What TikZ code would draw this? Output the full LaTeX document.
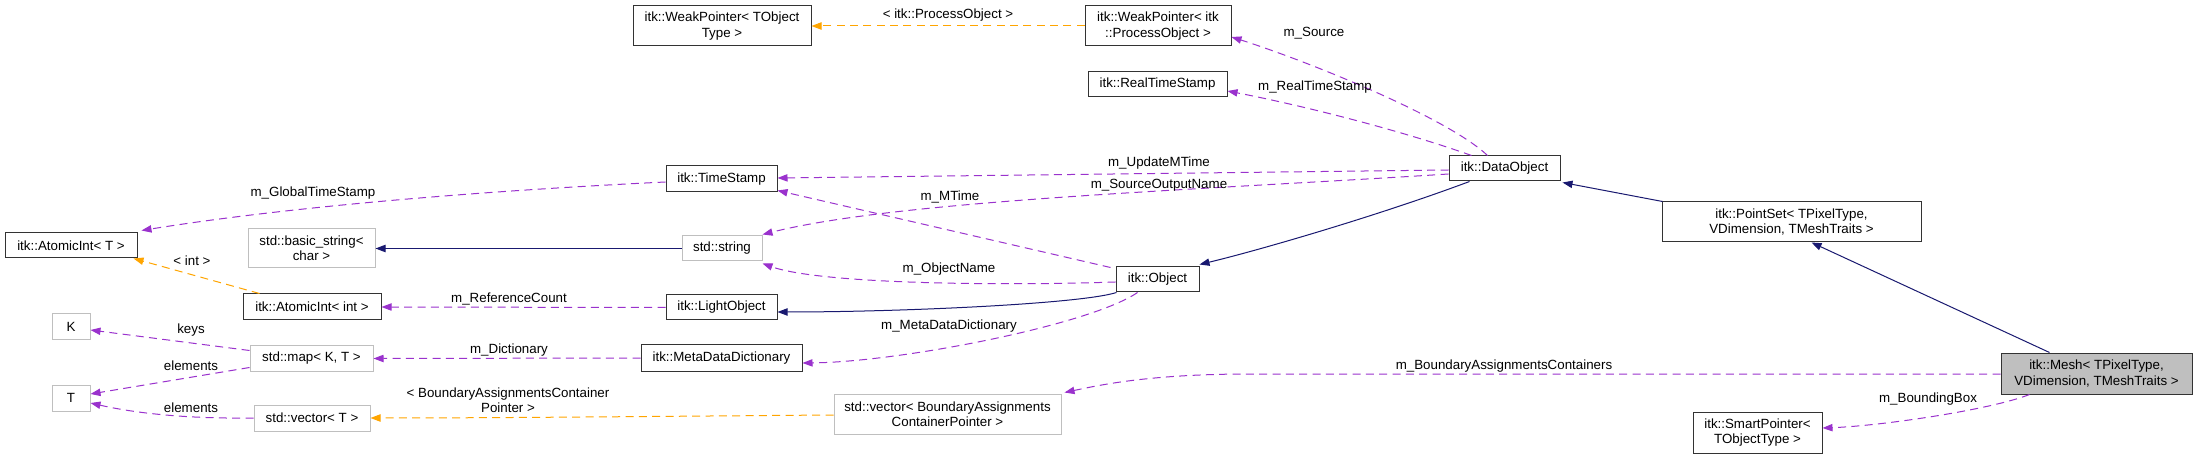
\documentclass[tikz,border=0pt]{standalone}
\usepackage{fontspec}
\setmainfont{Liberation Sans}
\usetikzlibrary{arrows.meta,calc}
\definecolor{epurple}{HTML}{9A32CD}
\definecolor{eorange}{HTML}{FFA500}
\definecolor{enavy}{HTML}{191970}
\definecolor{ugrey}{HTML}{BFBFBF}
\begin{document}
\begin{tikzpicture}[x=0.75pt,y=-0.75pt,
  font=\fontsize{10}{11.5}\selectfont,
  base/.style={rectangle, inner sep=0pt, align=center, line width=0.75pt},
  cls/.style={base, draw=black!80},
  ucls/.style={base, draw=ugrey},
  mcls/.style={base, draw=black!80, fill=ugrey},
  sz/.style 2 args={minimum width=#1*0.75pt, minimum height=#2*0.75pt},
  tip/.style={-{Triangle[length=7.5pt,width=5.5pt]}},
  uses/.style={tip, draw=epurple, fill=none, dash pattern=on 6pt off 4pt, line width=0.75pt},
  tmpl/.style={tip, draw=eorange, dash pattern=on 6pt off 4pt, line width=0.75pt},
  inh/.style={tip, draw=enavy, line width=0.75pt},
  lbl/.style={inner sep=0pt, align=center}
]
\fill[white] (0,0) rectangle (2197,459);
\useasboundingbox (0,0) rectangle (2197,459);

% nodes
\node[cls, sz={178}{40}] (wpT) at (722,26) {itk::WeakPointer< TObject\\Type >};
\node[cls, sz={146}{40}] (wpPO) at (1158,26) {itk::WeakPointer< itk\\::ProcessObject >};
\node[cls, sz={139}{25}] (rts) at (1157.5,84.5) {itk::RealTimeStamp};
\node[cls, sz={111}{26}] (ts) at (721.5,179) {itk::TimeStamp};
\node[cls, sz={111}{25}] (dobj) at (1504.5,168.5) {itk::DataObject};
\node[cls, sz={259}{40}] (pset) at (1791.5,222) {itk::PointSet< TPixelType,\\ VDimension, TMeshTraits >};
\node[cls, sz={132}{25}] (aiT) at (71,245.5) {itk::AtomicInt< T >};
\node[ucls, sz={127}{39}] (bstr) at (311.5,248.5) {std::basic\_string<\\char >};
\node[ucls, sz={80}{25}] (str) at (722,248.5) {std::string};
\node[cls, sz={83}{25}] (obj) at (1157.5,279.5) {itk::Object};
\node[cls, sz={138}{26}] (aiInt) at (312,307) {itk::AtomicInt< int >};
\node[cls, sz={111}{25}] (light) at (721.5,307.5) {itk::LightObject};
\node[ucls, sz={38}{26}] (K) at (71,327) {K};
\node[ucls, sz={123}{25}] (map) at (311.5,358.5) {std::map< K, T >};
\node[cls, sz={161}{26}] (mdd) at (721.5,358) {itk::MetaDataDictionary};
\node[mcls, sz={191}{41}] (mesh) at (2096.5,373.5) {itk::Mesh< TPixelType,\\ VDimension, TMeshTraits >};
\node[ucls, sz={38}{26}] (T) at (71,398) {T};
\node[ucls, sz={227}{40}] (vecBAC) at (947.5,414) {std::vector< BoundaryAssignments\\ContainerPointer >};
\node[ucls, sz={116}{26}] (vecT) at (312,418) {std::vector< T >};
\node[cls, sz={129}{41}] (sp) at (1757.5,432.5) {itk::SmartPointer<\\TObjectType >};

% inheritance (solid navy)
\draw[inh] ($(pset.north west)+(1,0)$) -- ($(dobj.south east)+(2,1)$);
\draw[inh] ($(mesh.north west)+(49,0)$) -- ($(pset.south west)+(150,0)$);
\draw[inh] ($(dobj.south west)+(21,0)$) .. controls (1380,215) and (1260,250) .. ($(obj.north east)+(0,-2)$);
\draw[inh] ($(obj.south west)+(1,0)$) .. controls (1080,304) and (900,312) .. ($(light.east)+(0,4.5)$);
\draw[inh] (str.west) -- (bstr.east);

% template instances (orange dashed)
\draw[tmpl] (wpPO.west) -- node[lbl, above=3pt, pos=0.5] {< itk::ProcessObject >} (wpT.east);
\draw[tmpl] ($(aiInt.north west)+(17,0)$) -- ($(aiT.south east)+(-4,0)$);
\node[lbl] (lint) at (192,261) {< int >};
\draw[tmpl] ($(vecBAC.west)+(0,1)$) .. controls (700,416) and (500,418) .. (vecT.east);
\node[lbl] (lbac) at (508,400) {< BoundaryAssignmentsContainer\\Pointer >};

% usage (purple dashed)
\draw[uses] ($(dobj.north west)+(39,0)$) .. controls (1448,118) and (1310,62) .. ($(wpPO.east)+(0,11)$);
\node[lbl] (lsrc) at (1314,33) {m\_Source};
\draw[uses] ($(dobj.north west)+(23,0)$) .. controls (1400,130) and (1300,105) .. ($(rts.east)+(0,6.5)$);
\node[lbl] (lrts) at (1315,87) {m\_RealTimeStamp};
\draw[uses] ($(dobj.west)+(0,1.5)$) -- ($(ts.east)+(0,-1)$);
\node[lbl] (lumt) at (1159,163) {m\_UpdateMTime};
\draw[uses] ($(dobj.west)+(0,5.5)$) .. controls (1200,190) and (900,200) .. ($(str.north east)+(0,-1)$);
\node[lbl] (lson) at (1159,185) {m\_SourceOutputName};
\draw[uses] ($(obj.north west)+(-5,1)$) -- ($(ts.south east)+(0,-2)$);
\node[lbl] (lmt) at (950,197) {m\_MTime};
\draw[uses] ($(obj.west)+(0,2.5)$) .. controls (1000,286) and (820,284) .. ($(str.south east)+(0,2)$);
\node[lbl] (lon) at (949,269) {m\_ObjectName};
\draw[uses] ($(obj.south west)+(22,0)$) .. controls (1090,325) and (900,362) .. ($(mdd.east)+(0,5)$);
\node[lbl] (lmdd) at (949,326) {m\_MetaDataDictionary};
\draw[uses] (light.west) -- (aiInt.east);
\node[lbl] (lrc) at (509,299) {m\_ReferenceCount};
\draw[uses] ($(ts.west)+(0,3)$) .. controls (500,190) and (300,205) .. ($(aiT.north east)+(4,-2)$);
\node[lbl] (lgts) at (313,193) {m\_GlobalTimeStamp};
\draw[uses] (mdd.west) -- (map.east);
\node[lbl] (ldic) at (509,350) {m\_Dictionary};
\draw[uses] ($(map.west)+(0,-8)$) -- ($(K.east)+(0,3)$);
\node[lbl] (lkeys) at (191,330) {keys};
\draw[uses] ($(map.west)+(0,9)$) -- ($(T.east)+(0,-4)$);
\node[lbl] (lel1) at (191,366) {elements};
\draw[uses] (vecT.west) .. controls (180,419) and (130,412) .. ($(T.east)+(0,5)$);
\node[lbl] (lel2) at (191,408) {elements};
\draw[uses] ($(mesh.west)+(0,0.5)$) -- (1250,374) .. controls (1150,374) and (1100,385) .. ($(vecBAC.north east)+(3,-1)$);
\node[lbl] (lbac2) at (1504,366) {m\_BoundaryAssignmentsContainers};
\draw[uses] ($(mesh.south west)+(29,0)$) .. controls (1990,410) and (1880,426) .. ($(sp.east)+(0,-4.5)$);
\node[lbl] (lbb) at (1928,399) {m\_BoundingBox};
\end{tikzpicture}
\end{document}
